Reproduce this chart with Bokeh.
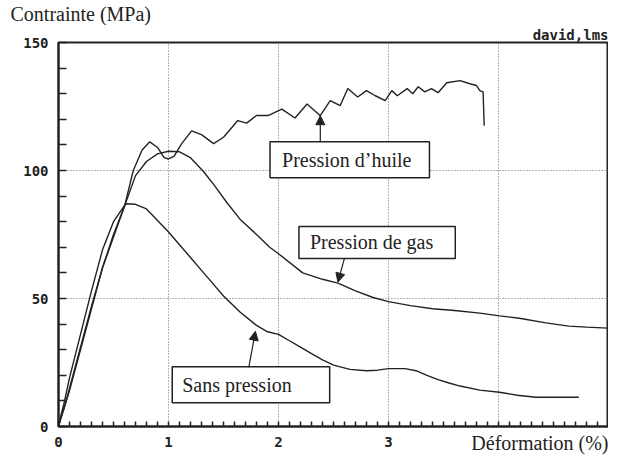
from bokeh.plotting import figure
from bokeh.models import FixedTicker, Label, Arrow, NormalHead, Title, Range1d
from bokeh.embed import file_html
from bokeh.resources import INLINE

# ---- data (strain %, stress MPa) ----
oil_x = [0, 0.02, 0.05, 0.1, 0.2, 0.3, 0.4, 0.5, 0.6, 0.68, 0.76, 0.83, 0.9, 0.96, 1.0, 1.05,
         1.12, 1.21, 1.3, 1.41, 1.5, 1.63, 1.71, 1.8, 1.91, 2.03, 2.15, 2.26, 2.38, 2.47,
         2.56, 2.63, 2.72, 2.80, 2.88, 2.97, 3.03, 3.08, 3.17, 3.22, 3.27, 3.33, 3.39,
         3.45, 3.53, 3.65, 3.74, 3.80, 3.83, 3.86, 3.87]
oil_y = [0, 3, 7, 14, 30, 46, 62, 75, 86, 100, 108, 111.2, 109, 105, 104.5, 105.5,
         110.5, 115.5, 114, 110.5, 113, 119.5, 118.5, 121.5, 121.5, 124, 120.5, 126, 121.4, 127.3,
         125.3, 132, 128.7, 131.2, 129.2, 127.3, 131.2, 129.2, 132, 130, 132.7, 130.7, 132,
         130.4, 134.3, 135.1, 133.9, 133.2, 131.2, 130.7, 117.5]

gas_x = [0, 0.02, 0.05, 0.1, 0.2, 0.3, 0.4, 0.5, 0.6, 0.7, 0.8, 0.9, 1.0, 1.1, 1.2, 1.32,
         1.42, 1.53, 1.65, 1.8, 1.92, 2.0, 2.22, 2.4, 2.54, 2.7, 2.86, 3.0, 3.2, 3.4, 3.6,
         3.83, 4.01, 4.19, 4.43, 4.64, 4.8, 5.0]
gas_y = [0, 3, 7, 15, 31, 47, 62, 74, 86, 98, 103.5, 106.5, 107.5, 107.3, 105, 99.5,
         94, 87.5, 81, 75, 70, 67.5, 60, 57.5, 56, 53, 50.4, 48.8, 47.2, 46, 45.3,
         44.3, 43.2, 42.3, 40.5, 39.2, 38.8, 38.4]

sans_x = [0, 0.02, 0.05, 0.1, 0.2, 0.3, 0.4, 0.5, 0.61, 0.7, 0.8, 0.9, 1.0, 1.1, 1.2,
          1.3, 1.4, 1.5, 1.65, 1.8, 1.9, 2.0, 2.1, 2.2, 2.3, 2.4, 2.5, 2.65, 2.8, 2.9,
          3.0, 3.15, 3.25, 3.35, 3.45, 3.55, 3.65, 3.83, 4.01, 4.17, 4.34, 4.73]
sans_y = [0, 4, 9, 19, 36, 53, 69, 80, 87, 86.8, 85, 80.5, 76, 71, 66,
          61, 56, 51, 44.7, 39.5, 37, 36, 33.5, 31, 28.5, 26, 24, 22.3, 21.8, 22,
          22.6, 22.6, 21.8, 20, 18.3, 17, 15.8, 14.2, 13.4, 12.2, 11.4, 11.4]

y_ticks = [0, 50, 100, 150]
y_minor = [10, 20, 30, 40, 60, 70, 80, 90, 110, 120, 130, 140]
x_ticks = [0, 1, 2, 3, 4]
x_minor = [i / 10 for i in range(1, 50) if i % 10 != 0]
x_labels = {0: "0", 1: "1", 2: "2", 3: "3", 4: ""}

INK = "#222222"
SERIF = "Liberation Serif"
MONO = "DejaVu Sans Mono"

p = figure(frame_width=550, frame_height=384, x_range=Range1d(0, 5), y_range=Range1d(0, 150),
           output_backend="svg", toolbar_location=None,
           min_border_left=58, min_border_right=0, min_border_top=30, min_border_bottom=30,
           title="Contrainte (MPa)")
p.background_fill_color = "white"
p.outline_line_color = INK
p.outline_line_width = 2

p.title.align = "left"
p.title.offset = -48
p.title.standoff = 0
p.title.text_font = SERIF
p.title.text_font_size = "20px"
p.title.text_font_style = "normal"
p.title.text_color = INK
p.add_layout(Title(text="david,lms", align="right", offset=0, standoff=0,
                   text_font=MONO, text_font_size="14px", text_font_style="bold",
                   text_color=INK), "above")

# axes
p.xaxis.ticker = FixedTicker(ticks=x_ticks, minor_ticks=x_minor)
p.xaxis.major_label_overrides = x_labels
p.yaxis.ticker = FixedTicker(ticks=y_ticks, minor_ticks=y_minor)
for ax in (p.xaxis, p.yaxis):
    ax.axis_line_color = INK
    ax.axis_line_width = 2
    ax.major_tick_line_color = INK
    ax.minor_tick_line_color = INK
    ax.major_tick_line_width = 1.5
    ax.minor_tick_line_width = 1.5
    ax.major_tick_out = 0
    ax.minor_tick_out = 0
    ax.major_label_text_font = MONO
    ax.major_label_text_font_style = "bold"
    ax.major_label_text_font_size = "14px"
    ax.major_label_text_color = INK
    ax.major_label_standoff = 10
p.xaxis.major_tick_in = 5
p.xaxis.minor_tick_in = 5
p.yaxis.major_tick_in = 8
p.yaxis.minor_tick_in = 8

p.xgrid.ticker = FixedTicker(ticks=[1, 2, 3, 4])
p.ygrid.ticker = FixedTicker(ticks=[50, 100])
for g in (p.xgrid, p.ygrid):
    g.grid_line_color = "#666666"
    g.grid_line_dash = "1 2"
    g.grid_line_width = 1

# curves
for xs, ys in ((oil_x, oil_y), (gas_x, gas_y), (sans_x, sans_y)):
    p.line(xs, ys, line_color=INK, line_width=1.4)

# annotation boxes (anchor = left edge of the box)
box_style = dict(text_align="left", text_baseline="middle", text_font=SERIF,
                 text_font_size="20px", text_color=INK, border_line_color=INK,
                 border_line_width=1.5, background_fill_color="white")
p.add_layout(Label(x=1.923, y=104.2, text="Pression d\u2019huile",
                   padding=dict(left=12, right=18, top=7, bottom=7), **box_style))
p.add_layout(Label(x=2.186, y=71.9, text="Pression de gas",
                   padding=dict(left=11, right=22, top=5, bottom=5), **box_style))
p.add_layout(Label(x=1.034, y=16.3, text="Sans pression",
                   padding=dict(left=10, right=38, top=7, bottom=7), **box_style))

head = dict(size=9, fill_color=INK, line_color=INK)
p.add_layout(Arrow(end=NormalHead(**head), x_start=2.38, y_start=111.2, x_end=2.38, y_end=121.4,
                   line_color=INK, line_width=1.2))
p.add_layout(Arrow(end=NormalHead(**head), x_start=2.60, y_start=65.8, x_end=2.54, y_end=56.4,
                   line_color=INK, line_width=1.2))
p.add_layout(Arrow(end=NormalHead(**head), x_start=1.73, y_start=23.1, x_end=1.79, y_end=37.2,
                   line_color=INK, line_width=1.2))

# x-axis caption, pulled up into the tick-label row
p.add_layout(Title(text="D\u00e9formation (%)", align="right", offset=0, standoff=-36,
                   vertical_align="top",
                   text_font=SERIF, text_font_size="20px", text_font_style="normal",
                   text_color=INK), "below")

open("out.html", "w").write(file_html(p, INLINE))
